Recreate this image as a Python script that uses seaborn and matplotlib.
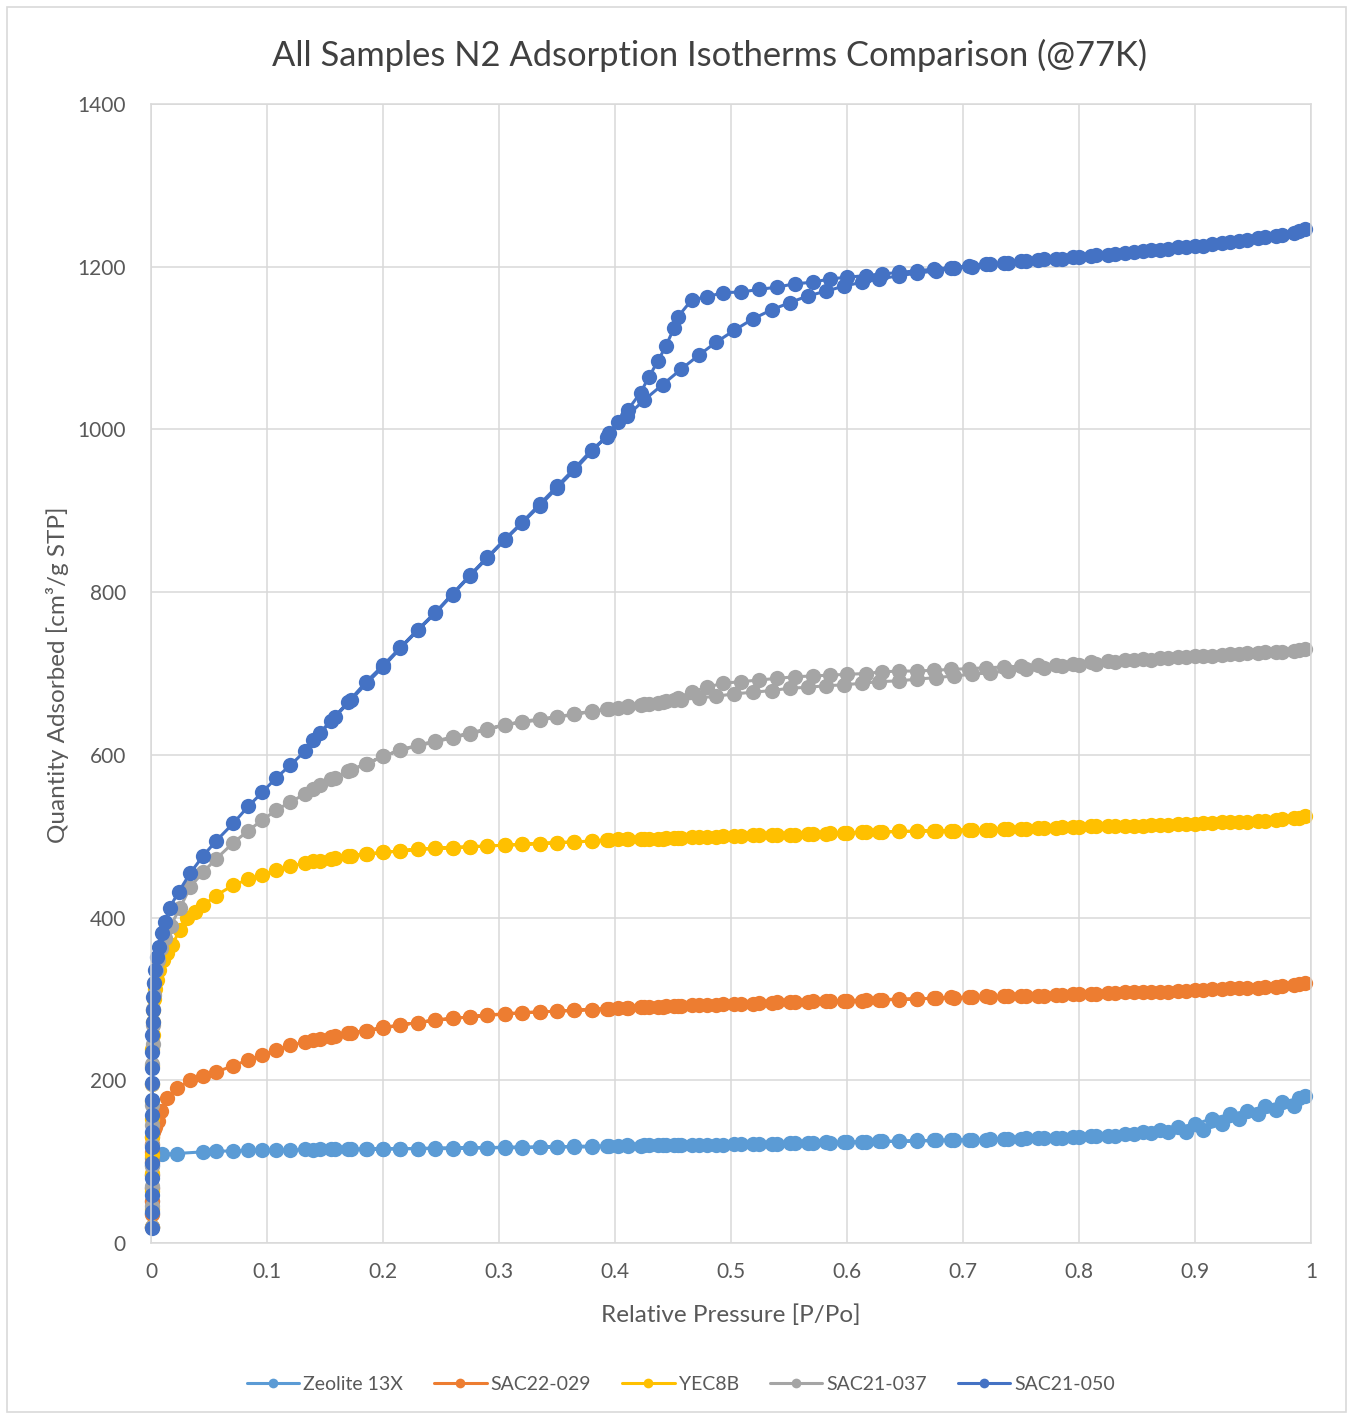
import numpy as np
import pandas as pd
import seaborn as sns
import matplotlib
matplotlib.use("Agg")
import matplotlib.pyplot as plt
from matplotlib.lines import Line2D
from matplotlib.patches import Rectangle

# ---------------- data ----------------
series_names = ["Zeolite 13X", "SAC22-029", "YEC8B", "SAC21-037", "SAC21-050"]
series_colors = ["#5B9BD5", "#ED7D31", "#FFC000", "#A5A5A5", "#4472C4"]

# common adsorption pressure grid (after low-pressure dosing)
p_ads = [0.045, 0.056, 0.071, 0.084, 0.096, 0.108, 0.12, 0.133, 0.146, 0.159, 0.172, 0.186, 0.2,
         0.215, 0.23, 0.245, 0.26, 0.275, 0.29, 0.305, 0.32, 0.335, 0.35, 0.365, 0.38, 0.395, 0.41,
         0.425, 0.441, 0.457, 0.472, 0.487, 0.503, 0.519, 0.535, 0.551, 0.566, 0.582, 0.597, 0.613,
         0.628, 0.645, 0.66, 0.677, 0.692, 0.708, 0.723, 0.739, 0.754, 0.77, 0.785, 0.8, 0.815, 0.831,
         0.847, 0.862, 0.877, 0.892, 0.907, 0.923, 0.938, 0.954, 0.97, 0.985, 0.995]
# common desorption pressure grid
p_des = [0.99, 0.975, 0.96, 0.945, 0.93, 0.915, 0.9, 0.885, 0.87, 0.855, 0.84, 0.825, 0.81, 0.795,
         0.78, 0.765, 0.75, 0.735, 0.72, 0.705, 0.69, 0.675, 0.66, 0.645, 0.63, 0.616, 0.6, 0.585,
         0.571, 0.555, 0.54, 0.524, 0.509, 0.493, 0.479, 0.466, 0.454, 0.451, 0.444, 0.437, 0.429,
         0.422, 0.411, 0.403, 0.393, 0.38, 0.365, 0.35, 0.335, 0.32, 0.305, 0.29, 0.275, 0.26, 0.245,
         0.23, 0.215, 0.2, 0.185, 0.17, 0.155, 0.14]

# Zeolite 13X
zeo_lp_x = [0.0007, 0.0007, 0.0008, 0.0008, 0.0009, 0.001, 0.0012, 0.003, 0.0095, 0.022]
zeo_lp_y = [20, 36, 52, 68, 84, 96, 104, 107, 109, 110]
zeo_ads = [112, 113, 113, 114, 114, 114, 114, 115, 115, 115, 115, 116, 116, 116, 116, 117, 117, 117,
           117, 118, 118, 118, 118, 119, 119, 119, 120, 120, 120, 121, 121, 121, 122, 122, 122, 123,
           123, 124, 124, 124, 125, 125, 126, 126, 127, 127, 128, 128, 129, 129, 129, 130, 131, 132,
           134, 135, 136, 137, 139, 146, 152, 158, 163, 169, 181]
zeo_des = [178, 173, 168, 162, 158, 153, 146, 142, 139, 136, 134, 132, 131, 130, 129, 129, 128, 128,
           127, 127, 126, 126, 125, 125, 125, 124, 124, 123, 123, 123, 122, 122, 122, 121, 121, 121,
           120, 120, 120, 120, 120, 119, 119, 119, 119, 118, 118, 118, 118, 117, 117, 117, 117, 116,
           116, 116, 116, 115, 115, 115, 115, 114]

# SAC22-029
s029_lp_x = [0.0007, 0.0008, 0.0008, 0.0009, 0.0009, 0.001, 0.001, 0.0011, 0.0012, 0.0015, 0.0022,
             0.0035, 0.006, 0.009, 0.014, 0.022, 0.034]
s029_lp_y = [20, 36, 52, 68, 84, 100, 112, 122, 130, 136, 140, 143, 150, 162, 178, 190, 200]
s029_ads = [205, 210, 218, 225, 231, 237, 243, 247, 251, 254, 258, 261, 264, 268, 271, 274, 276, 278,
            280, 281, 283, 284, 285, 286, 287, 288, 289, 290, 290, 291, 292, 293, 294, 294, 295, 296,
            296, 297, 298, 298, 299, 299, 300, 301, 301, 302, 302, 303, 304, 304, 305, 306, 306, 307,
            308, 308, 309, 310, 311, 312, 313, 314, 315, 317, 320]
s029_des = [318, 316, 315, 314, 313, 312, 311, 310, 309, 308, 308, 307, 306, 306, 305, 304, 304, 303,
            303, 302, 302, 301, 300, 300, 299, 299, 298, 297, 297, 296, 296, 295, 294, 294, 293, 292,
            291, 291, 291, 290, 290, 290, 289, 289, 288, 287, 286, 285, 284, 283, 282, 280, 278, 276,
            274, 271, 268, 265, 261, 258, 253, 249]

# YEC8B
yec_lp_x = [0.0007, 0.0007, 0.0008, 0.0008, 0.0009, 0.0009, 0.001, 0.001, 0.0011, 0.0011, 0.0012,
            0.0013, 0.0015, 0.0019, 0.0025, 0.0035, 0.005, 0.007, 0.01, 0.014, 0.018, 0.025, 0.031, 0.038]
yec_lp_y = [20, 42, 64, 86, 108, 130, 152, 174, 196, 218, 238, 256, 272, 287, 300, 312, 323, 335,
            348, 357, 366, 385, 399, 407]
yec_ads = [415, 427, 440, 447, 452, 458, 463, 467, 470, 473, 476, 478, 480, 482, 484, 485, 486, 487,
           488, 489, 490, 491, 492, 493, 494, 495, 496, 497, 497, 498, 499, 499, 500, 501, 501, 502,
           503, 503, 504, 505, 505, 506, 506, 507, 507, 508, 508, 509, 509, 510, 511, 511, 512, 512,
           513, 514, 514, 515, 516, 517, 518, 519, 520, 522, 525]
yec_des = [523, 521, 519, 518, 517, 516, 515, 515, 514, 513, 513, 512, 512, 511, 510, 510, 509, 509,
           508, 508, 507, 507, 506, 506, 505, 505, 504, 504, 503, 502, 502, 501, 500, 500, 499, 499,
           498, 498, 498, 497, 497, 497, 496, 496, 495, 494, 493, 492, 491, 490, 489, 488, 487, 486,
           485, 484, 482, 480, 478, 476, 472, 469]

# SAC21-037
s037_lp_x = [0.0008, 0.0009, 0.0009, 0.001, 0.001, 0.0011, 0.0011, 0.0012, 0.0012, 0.0013, 0.0015,
             0.0018, 0.0023, 0.003, 0.0042, 0.006, 0.0085, 0.012, 0.017, 0.025, 0.034]
s037_lp_y = [20, 45, 70, 95, 120, 145, 170, 195, 220, 245, 268, 288, 305, 320, 335, 348, 362, 375,
             390, 412, 438]
s037_ads = [456, 472, 492, 507, 520, 532, 542, 552, 563, 572, 581, 589, 598, 606, 611, 616, 621, 626,
            631, 637, 640, 643, 646, 650, 653, 656, 659, 662, 665, 668, 670, 672, 675, 677, 679, 682,
            683, 685, 686, 688, 690, 691, 693, 695, 697, 699, 701, 703, 705, 707, 709, 711, 712, 714,
            716, 717, 719, 720, 721, 723, 724, 725, 727, 728, 730]
s037_des = [729, 727, 726, 725, 724, 722, 721, 720, 719, 718, 717, 715, 714, 712, 711, 710, 709, 708,
            707, 706, 705, 704, 703, 703, 702, 700, 699, 698, 697, 696, 694, 692, 690, 688, 683, 677,
            670, 668, 666, 664, 663, 661, 660, 658, 656, 654, 650, 647, 644, 641, 637, 632, 627, 622,
            617, 612, 606, 598, 589, 580, 570, 558]

# SAC21-050
s050_lp_x = [0.0008, 0.0008, 0.0009, 0.0009, 0.0009, 0.001, 0.001, 0.001, 0.0011, 0.0011, 0.0011,
             0.0012, 0.0012, 0.0013, 0.0017, 0.002, 0.0025, 0.0034, 0.005, 0.0072, 0.0093, 0.012,
             0.016, 0.024, 0.034]
s050_lp_y = [18, 38, 59, 80, 98, 118, 136, 157, 176, 197, 215, 235, 256, 272, 286, 302, 319, 335,
             352, 364, 381, 395, 412, 432, 455]
s050_ads = [476, 494, 516, 537, 554, 572, 587, 605, 627, 647, 667, 688, 708, 731, 753, 774, 797, 820,
            842, 864, 885, 906, 928, 950, 973, 995, 1016, 1036, 1055, 1074, 1091, 1107, 1122, 1136,
            1147, 1156, 1164, 1170, 1176, 1181, 1185, 1189, 1192, 1195, 1198, 1200, 1203, 1205, 1207,
            1209, 1210, 1212, 1214, 1216, 1218, 1220, 1222, 1224, 1226, 1229, 1232, 1235, 1238, 1241,
            1246]
s050_des = [1244, 1239, 1236, 1233, 1230, 1228, 1226, 1224, 1221, 1219, 1217, 1215, 1213, 1212, 1210,
            1208, 1207, 1205, 1203, 1201, 1199, 1197, 1195, 1193, 1191, 1189, 1187, 1185, 1181, 1179,
            1175, 1172, 1169, 1168, 1163, 1159, 1138, 1125, 1103, 1084, 1064, 1045, 1024, 1009, 991,
            975, 952, 930, 908, 886, 865, 843, 821, 798, 775, 754, 732, 710, 689, 665, 642, 618]

x_ticks = [0, 0.1, 0.2, 0.3, 0.4, 0.5, 0.6, 0.7, 0.8, 0.9, 1]
x_tick_labels = ["0", "0.1", "0.2", "0.3", "0.4", "0.5", "0.6", "0.7", "0.8", "0.9", "1"]
y_ticks = [0, 200, 400, 600, 800, 1000, 1200, 1400]
y_tick_labels = ["0", "200", "400", "600", "800", "1000", "1200", "1400"]

title = "All Samples N2 Adsorption Isotherms Comparison (@77K)"
x_label = "Relative Pressure [P/Po]"
y_label = "Quantity Adsorbed [cm³/g STP]"

# ---------------- build table ----------------
parts = [
    (zeo_lp_x, zeo_lp_y, zeo_ads, zeo_des),
    (s029_lp_x, s029_lp_y, s029_ads, s029_des),
    (yec_lp_x, yec_lp_y, yec_ads, yec_des),
    (s037_lp_x, s037_lp_y, s037_ads, s037_des),
    (s050_lp_x, s050_lp_y, s050_ads, s050_des),
]
frames = []
for name, (lx, ly, ya, yd) in zip(series_names, parts):
    assert len(lx) == len(ly), name
    assert len(ya) == len(p_ads), (name, len(ya))
    assert len(yd) == len(p_des), (name, len(yd))
    xs = list(lx) + list(p_ads) + list(p_des)
    ys = list(ly) + list(ya) + list(yd)
    frames.append(pd.DataFrame({"P": xs, "Q": ys, "Sample": name, "order": range(len(xs))}))
df = pd.concat(frames, ignore_index=True)

# ---------------- plot ----------------
sns.set_theme(style="white")
plt.rcParams["font.family"] = ["Lato", "DejaVu Sans"]
text_color = "#595959"
grid_color = "#D9D9D9"

W, H = 1352, 1416
fig = plt.figure(figsize=(W / 100, H / 100), dpi=100)
ax = fig.add_axes([151 / W, 1 - 1243 / H, (1311 - 151) / W, (1243 - 104) / H])

sns.lineplot(data=df, x="P", y="Q", hue="Sample", hue_order=series_names,
             palette=series_colors, sort=False, estimator=None, units=None,
             marker="o", markersize=11, markeredgewidth=0, linewidth=2.2,
             legend=False, ax=ax)
for ln in ax.lines:
    ln.set_clip_on(False)

ax.set_xlim(0, 1)
ax.set_ylim(0, 1400)
ax.set_xticks(x_ticks)
ax.set_xticklabels(x_tick_labels)
ax.set_yticks(y_ticks)
ax.set_yticklabels(y_tick_labels)
ax.grid(True, color=grid_color, linewidth=1.1)
ax.set_axisbelow(True)
for sp in ax.spines.values():
    sp.set_color(grid_color)
    sp.set_linewidth(1.1)
ax.tick_params(axis="both", length=0, labelsize=15, labelcolor=text_color)
ax.tick_params(axis="x", pad=14)
ax.tick_params(axis="y", pad=18)
ax.set_xlabel("")
ax.set_ylabel("")

fig.text(709.5 / W, 1 - 55 / H, title, ha="center", va="center", fontsize=24.8, color="#404040")
fig.text(731 / W, 1 - 1315 / H, x_label, ha="center", va="center", fontsize=17.5, color=text_color)
fig.text(58 / W, 1 - 675 / H, y_label, ha="center", va="center", fontsize=17.5, color=text_color,
         rotation=90)

handles = [Line2D([0], [0], color=c, marker="o", markersize=7, linewidth=2.2, markeredgewidth=0)
           for c in series_colors]
fig.legend(handles, series_names, loc="center", bbox_to_anchor=(681 / W, 1 - 1384 / H), ncol=5,
           frameon=False, fontsize=14, handlelength=2.7, handletextpad=0.2, columnspacing=1.6,
           labelcolor=text_color)

fig.add_artist(Rectangle((7 / W, 4 / H), (1346 - 7) / W, (1409 - 4) / H, transform=fig.transFigure,
                         fill=False, edgecolor=grid_color, linewidth=1.2))

fig.savefig("out.png", dpi=100, facecolor="white")
